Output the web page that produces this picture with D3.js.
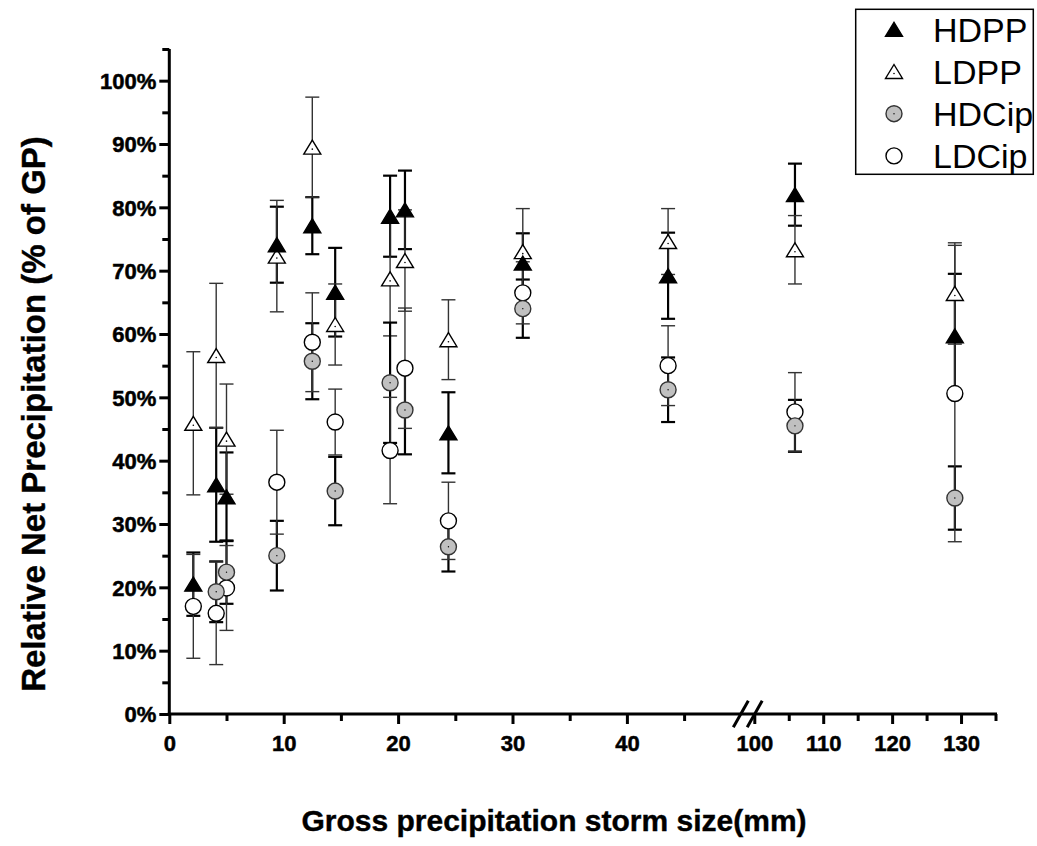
<!DOCTYPE html>
<html><head><meta charset="utf-8">
<script src="https://cdn.jsdelivr.net/npm/d3@7"></script>
<style>
html,body{margin:0;padding:0;background:#fff;}
svg text{font-family:"Liberation Sans",Arial,sans-serif;}
</style></head>
<body><svg id="chart" width="1037" height="846"></svg>
<script>
// ---- data ----
const stormSize = [2.1, 4.1, 5.0, 9.4, 12.5, 14.5, 19.3, 20.6, 24.4, 30.9, 43.6, 105.9, 129.1];
const seriesNames = ["HDPP", "LDPP", "HDCip", "LDCip"];
const hdpp     = [20.5, 36.2, 34.3, 74.1, 77.1, 66.6, 78.6, 79.6, 44.4, 71.2, 69.2, 82.0, 59.7];
const hdppErr  = [5.0, 9.0, 7.0, 6.0, 4.5, 7.0, 6.4, 6.2, 6.4, 4.7, 6.8, 4.9, 9.8];
const ldpp     = [45.9, 56.6, 43.4, 72.3, 89.5, 61.5, 68.7, 71.6, 59.1, 73.0, 74.6, 73.3, 66.4];
const ldppErr  = [11.3, 11.4, 8.7, 8.8, 7.9, 6.4, 9.0, 8.0, 6.3, 6.8, 5.2, 5.4, 8.0];
const hdcip    = [null, 19.3, 22.4, 25.0, 55.7, 35.2, 52.3, 48.0, 26.4, 64.0, 51.2, 45.5, 34.1];
const hdcipErr = [null, 4.8, 5.0, 5.5, 6.0, 5.4, 9.5, 7.0, 3.9, 4.6, 5.1, 4.1, 5.0];
const ldcip    = [17.0, 15.9, 19.9, 36.6, 58.7, 46.1, 41.6, 54.6, 30.5, 66.5, 55.0, 47.7, 50.6];
const ldcipErr = [8.2, 8.1, 6.7, 8.2, 7.8, 5.2, 8.4, 9.5, 6.1, 4.9, 6.3, 6.2, 23.4];
const yTickValues = [0,10,20,30,40,50,60,70,80,90,100];
const xTicksA = [0,10,20,30,40];
const xTicksB = [100,110,120,130];
const xTitle = "Gross precipitation storm size(mm)";
const yTitle = "Relative Net Precipitation (% of GP)";

// ---- styles ----
const styles = {
  HDPP:  {shape:"tri",  fill:"#000", stroke:"#000", bar:"#000", barW:2.2, dot:false},
  LDPP:  {shape:"tri",  fill:"#fff", stroke:"#000", bar:"#333", barW:1.4, dot:true},
  HDCip: {shape:"circ", fill:"#c0c0c0", stroke:"#333", bar:"#000", barW:2.2, dot:true},
  LDCip: {shape:"circ", fill:"#fff", stroke:"#000", bar:"#333", barW:1.4, dot:false}
};
const series = [
  {name:"HDPP", v:hdpp, e:hdppErr},
  {name:"LDPP", v:ldpp, e:ldppErr},
  {name:"HDCip", v:hdcip, e:hdcipErr},
  {name:"LDCip", v:ldcip, e:ldcipErr}
];

const svg = d3.select("#chart");
const xA = d3.scaleLinear().domain([0,50]).range([169.3, 741.3]);
const xB = d3.scaleLinear().domain([100,135]).range([754.3, 995.5]);
const xs = v => v <= 50 ? xA(v) : xB(v);
const y = d3.scaleLinear().domain([0,105]).range([714, 49]);
const x0 = xA(0), y0 = y(0);

// ---- axes ----
const ax = svg.append("g");
const yMajor = d3.axisLeft(y).tickValues(yTickValues).tickSize(10).tickSizeOuter(0).tickFormat(d => d + "%");
const yMinor = d3.axisLeft(y).tickValues(d3.range(5,106,10)).tickSize(7).tickSizeOuter(0).tickFormat("");
const gy = ax.append("g").attr("transform", `translate(${x0},0)`).call(yMajor);
ax.append("g").attr("transform", `translate(${x0},0)`).call(yMinor);
const gxa = ax.append("g").attr("transform", `translate(0,${y0})`).call(d3.axisBottom(xA).tickValues(xTicksA).tickSize(10).tickSizeOuter(0));
ax.append("g").attr("transform", `translate(0,${y0})`).call(d3.axisBottom(xA).tickValues([5,15,25,35,45]).tickSize(7).tickSizeOuter(0).tickFormat(""));
const gxb = ax.append("g").attr("transform", `translate(0,${y0})`).call(d3.axisBottom(xB).tickValues(xTicksB).tickSize(10).tickSizeOuter(0));
ax.append("g").attr("transform", `translate(0,${y0})`).call(d3.axisBottom(xB).tickValues([105,115,125,135]).tickSize(7).tickSizeOuter(0).tickFormat(""));
ax.selectAll(".domain").remove();
ax.selectAll(".tick line").attr("stroke","#000").attr("stroke-width",3);
ax.selectAll(".tick text").attr("fill","#000").attr("font-weight","bold").attr("font-size",22)
  .attr("stroke","#000").attr("stroke-width",0.5)
  .attr("font-family","'Liberation Sans',Arial,sans-serif");
gy.selectAll(".tick text").attr("x",-13).attr("dy","0.35em");
[gxa,gxb].forEach(g => g.selectAll(".tick text").attr("y",21).attr("dy","0.71em"));
// axis lines
ax.append("line").attr("x1",x0).attr("x2",x0).attr("y1",y(105)).attr("y2",y0+1.5).attr("stroke","#000").attr("stroke-width",3);
ax.append("line").attr("x1",x0-1.5).attr("x2",xB(135)+1.5).attr("y1",y0).attr("y2",y0).attr("stroke","#000").attr("stroke-width",3);
// break marks
[xA(50)-0.5, xB(100)+0.4].forEach(cx => {
  ax.append("line").attr("x1",cx-7.5).attr("y1",y0+13.3).attr("x2",cx+7.5).attr("y2",y0-13.3)
    .attr("stroke","#000").attr("stroke-width",3);
});

// ---- titles ----
svg.append("text").attr("x", 554).attr("y", 831).attr("text-anchor","middle")
  .attr("font-weight","bold").attr("font-size",30).attr("stroke","#000").attr("stroke-width",0.4).text(xTitle);
svg.append("text").attr("transform","translate(45,414) rotate(-90)").attr("text-anchor","middle")
  .attr("font-weight","bold").attr("font-size",33).attr("stroke","#000").attr("stroke-width",0.4).text(yTitle);

// ---- markers ----
const triH = 14, triW = 17, circR = 8;
function marker(g, shape, st) {
  if (shape === "tri") {
    g.append("path").attr("d", d3.line()([[0,-triH/2],[triW/2,triH/2],[-triW/2,triH/2]]) + "Z")
      .attr("fill", st.fill).attr("stroke", st.stroke).attr("stroke-width",1.4);
    if (st.dot) g.append("circle").attr("cy",2).attr("r",0.8).attr("fill","#000");
  } else {
    g.append("circle").attr("r", circR).attr("fill", st.fill).attr("stroke", st.stroke).attr("stroke-width",1.4);
    if (st.dot) g.append("circle").attr("r",0.7).attr("fill","#000");
  }
}

const plot = svg.append("g");
// error bars first
series.forEach(s => {
  const st = styles[s.name];
  stormSize.forEach((xv,i) => {
    const v = s.v[i], e = s.e[i];
    if (v == null) return;
    const cx = xs(xv), yt = y(v+e), yb = y(v-e);
    const g = plot.append("g").attr("stroke", st.bar).attr("stroke-width", st.barW);
    g.append("line").attr("x1",cx).attr("x2",cx).attr("y1",yt).attr("y2",yb);
    g.append("line").attr("x1",cx-7).attr("x2",cx+7).attr("y1",yt).attr("y2",yt);
    g.append("line").attr("x1",cx-7).attr("x2",cx+7).attr("y1",yb).attr("y2",yb);
  });
});
// markers
["LDCip","HDCip","LDPP","HDPP"].forEach(name => {
  const s = series.find(d => d.name === name), st = styles[name];
  stormSize.forEach((xv,i) => {
    const v = s.v[i];
    if (v == null) return;
    const g = plot.append("g").attr("transform", `translate(${xs(xv)},${y(v)})`);
    marker(g, st.shape, st);
  });
});

// ---- legend ----
const lg = svg.append("g");
lg.append("rect").attr("x",855.7).attr("y",9.3).attr("width",177.6).attr("height",165)
  .attr("fill","#fff").attr("stroke","#000").attr("stroke-width",1.5);
seriesNames.forEach((n,i) => {
  const cy = 29.3 + i*42.2;
  const g = lg.append("g").attr("transform",`translate(894,${cy})`);
  marker(g, styles[n].shape, styles[n]);
  lg.append("text").attr("x",933).attr("y",cy+12.4).attr("font-size",34).attr("fill","#000").text(n);
});
</script>
</body></html>
